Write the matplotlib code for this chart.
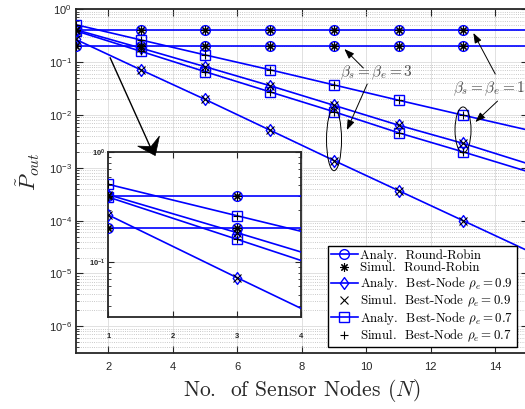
import numpy as np
import matplotlib.pyplot as plt
from matplotlib.lines import Line2D
from matplotlib.patches import Ellipse, Polygon
from matplotlib.path import Path

plt.rcParams['mathtext.fontset'] = 'cm'
plt.rcParams['font.family'] = ['Liberation Sans', 'DejaVu Sans']

# Outage probability vs. number of sensor nodes
n_nodes = [1, 3, 5, 7, 9, 11, 13, 15]

# Round-Robin, beta_s = beta_e = 1 and 3
rr_b1 = [0.40, 0.40, 0.40, 0.40, 0.40, 0.40, 0.40, 0.40]
rr_b3 = [0.205, 0.205, 0.205, 0.205, 0.205, 0.205, 0.205, 0.205]

# Best-Node, rho_e = 0.9
bn09_b1 = [0.41, 0.185, 0.082, 0.036, 0.0152, 0.0064, 0.0029, 0.0012]
bn09_b3 = [0.268, 0.072, 0.0197, 0.0052, 0.00137, 0.00037, 0.0001, 0.000027]

# Best-Node, rho_e = 0.7
bn07_b1 = [0.51, 0.264, 0.137, 0.072, 0.037, 0.019, 0.0099, 0.0052]
bn07_b3 = [0.39, 0.161, 0.066, 0.0275, 0.0115, 0.0046, 0.0020, 0.00085]

# matlab-like diamond (a bit wider than mpl's thin diamond)
diamond = Path([(0, 1), (0.72, 0), (0, -1), (-0.72, 0), (0, 1)],
               [Path.MOVETO, Path.LINETO, Path.LINETO, Path.LINETO, Path.CLOSEPOLY])

# (analytical values, analytical marker, simulation marker)
series = [
    (rr_b1, 'o', (8, 2, 0)),
    (rr_b3, 'o', (8, 2, 0)),
    (bn09_b1, diamond, 'x'),
    (bn09_b3, diamond, 'x'),
    (bn07_b1, 's', '+'),
    (bn07_b3, 's', '+'),
]


def marker_size(mk):
    if mk == 'o':
        return 7
    if mk == 's':
        return 6.5
    return 8.5


legend_labels = [
    'Analy.  Round-Robin',
    'Simul.  Round-Robin',
    r'Analy.  Best-Node $\rho_e = 0.9$',
    r'Simul.  Best-Node $\rho_e = 0.9$',
    r'Analy.  Best-Node $\rho_e = 0.7$',
    r'Simul.  Best-Node $\rho_e = 0.7$',
]

blue = (0, 0, 1)
dark = '#262626'


def draw_curves(ax):
    for vals, mk, smk in series:
        ax.plot(n_nodes, vals, color=blue, lw=1.2, marker=mk, mfc='none',
                mec=blue, mew=1.0, ms=marker_size(mk), markevery=slice(0, 7), zorder=3)
        ax.plot(n_nodes[:7], vals[:7], ls='none', marker=smk, color='k',
                ms=6, mew=0.8, zorder=4)


def style_axes(ax, lw):
    for sp in ax.spines.values():
        sp.set_linewidth(lw)
        sp.set_color(dark)
    ax.tick_params(which='both', direction='in', top=True, right=True, colors=dark)
    ax.grid(True, which='major', color='#dcdcdc', lw=0.6)
    ax.set_axisbelow(True)


fig = plt.figure(figsize=(5.25, 4.09), dpi=100)
ax = fig.add_axes([0.1448, 0.1377, 0.86, 0.8396])
ax.set_yscale('log')
draw_curves(ax)
ax.set_xlim(1, 15)
ax.set_ylim(10 ** -6.5, 1)
ax.set_xticks(range(2, 15, 2))
style_axes(ax, 1.3)
ax.yaxis.grid(True, which='minor', color='#b8b8b8', ls=':', lw=0.6)
ax.tick_params(which='major', length=5, labelsize=8, pad=3)
ax.tick_params(axis='x', pad=7)
ax.tick_params(which='minor', length=2.5)

ax.set_xlabel('No.  of Sensor Nodes $(N)$', family='cmr10', fontsize=15.5, color=dark)
ax.xaxis.set_label_coords(0.5, -0.072)
ax.set_ylabel(r'$\tilde{P}_{out}$', fontsize=16, color=dark)
ax.yaxis.set_label_coords(-0.075, 0.526)

# legend
handles = []
for vals, mk, smk in series[::2]:
    handles.append(Line2D([], [], color=blue, lw=1.2, marker=mk, mfc='none',
                          mec=blue, mew=1.0, ms=marker_size(mk)))
    handles.append(Line2D([], [], ls='none', marker=smk, color='k', ms=6, mew=0.8))
leg = ax.legend(handles, legend_labels, loc='lower left',
                bbox_to_anchor=(0.557, 0.0166), borderaxespad=0,
                prop={'family': 'cmr10', 'size': 9.3}, fancybox=False,
                framealpha=1, edgecolor='k', handlelength=2.1,
                handletextpad=0.2, labelspacing=0.05, borderpad=0.25)
leg.get_frame().set_linewidth(1.0)
leg.set_zorder(10)

# annotations
txt_kw = dict(fontsize=11, color='#505050', va='center', ha='left')
ax.text(9.19, 0.062, r'$\beta_s = \beta_e = 3$', **txt_kw)
ax.text(12.69, 0.031, r'$\beta_s = \beta_e = 1$', **txt_kw)

arr = dict(arrowstyle='-|>,head_length=0.6,head_width=0.22', color='k',
           lw=0.7, mutation_scale=10, shrinkA=0, shrinkB=0)
ax.annotate('', xy=(9.32, 0.177), xytext=(9.91, 0.0773), arrowprops=arr)
ax.annotate('', xy=(9.40, 0.00518), xytext=(10.03, 0.0385), arrowprops=arr)
ax.annotate('', xy=(13.32, 0.356), xytext=(14.0, 0.0595), arrowprops=arr)
ax.annotate('', xy=(13.38, 0.00734), xytext=(14.07, 0.0183), arrowprops=arr)

fig.canvas.draw()

# big arrow pointing at the inset, with a swept-back head
tail = ax.transData.transform((2.06, 0.12))
tip = ax.transData.transform((3.457, 0.0017))
d = (tip - tail) / np.hypot(*(tip - tail))
perp = np.array([-d[1], d[0]])
base = tip - 16 * d
notch = tip - 10 * d
ax.plot([2.06, 3.3], [0.12, 0.0025], color='k', lw=1.0, zorder=12)
head = Polygon([tip, base + 12 * perp, notch, base - 12 * perp], closed=True,
               transform=None, fc='k', ec='k', lw=0.5, zorder=12)
fig.add_artist(head)

to_ax = ax.transAxes.inverted()
for nx, py, w, h in [(9, 0.0034, 15, 62), (13, 0.0052, 16, 46)]:
    cx, cy = to_ax.transform(ax.transData.transform((nx, py)))
    ax.add_patch(Ellipse((cx, cy), w / 451.5, h / 343.4, transform=ax.transAxes,
                         fill=False, ec='k', lw=0.7, zorder=5))

# zoomed inset for small N
axin = fig.add_axes([0.2063, 0.2257, 0.367, 0.402])
axin.set_yscale('log')
draw_curves(axin)
axin.set_xlim(1, 4)
axin.set_ylim(10 ** -1.5, 1)
axin.set_xticks([1, 2, 3, 4])
style_axes(axin, 1.3)
axin.tick_params(which='major', length=4, labelsize=5.5, pad=2)
axin.tick_params(axis='x', pad=12)
axin.tick_params(which='minor', length=2)
for lab in axin.get_xticklabels() + axin.get_yticklabels():
    lab.set_fontweight('bold')

fig.savefig('out.png', dpi=100)
